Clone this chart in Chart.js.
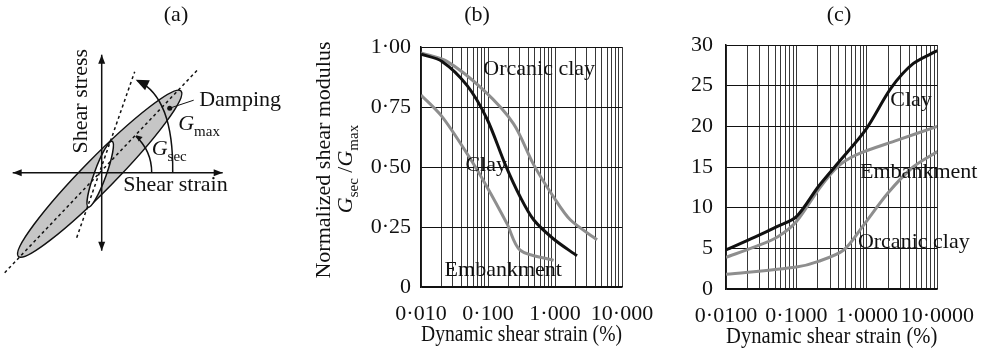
<!DOCTYPE html>
<html>
<head>
<meta charset="utf-8">
<script src="https://cdn.jsdelivr.net/npm/chart.js@4.4.1/dist/chart.umd.min.js"></script>
<style>
  html, body { margin: 0; padding: 0; background: #fff; }
  #wrap { position: relative; width: 988px; height: 356px; overflow: hidden; }
  canvas { position: absolute; top: 0; }
</style>
</head>
<body>
<div id="wrap">
  <canvas id="loop" width="290" height="356" style="left:0"></canvas>
  <canvas id="modulus" width="400" height="356" style="left:280px"></canvas>
  <canvas id="damping" width="328" height="356" style="left:660px"></canvas>
</div>
<script>
// ---- axes ----
const strainDecades = [0.01, 0.1, 1, 10];
const decadeSteps = [1, 2, 3, 4, 5, 6, 7, 8, 9];
const modulusStrainLabels = ['0·010', '0·100', '1·000', '10·000'];
const dampingStrainLabels = ['0·0100', '0·1000', '1·0000', '10·0000'];
const modulusTickLabels = ['0', '0·25', '0·50', '0·75', '1·00'];
const dampingTickLabels = ['0', '5', '10', '15', '20', '25', '30'];

// ---- (b) normalized shear modulus Gsec/Gmax vs strain (%) ----
const clayStrainB = [0.01, 0.0206, 0.0486, 0.0967, 0.181, 0.303, 0.48, 0.953, 2.13];
const clayModulus = [0.97, 0.94, 0.84, 0.70, 0.51, 0.375, 0.28, 0.20, 0.13];
const organicStrainB = [0.01, 0.0244, 0.086, 0.241, 0.48, 0.953, 1.69, 4.24];
const organicModulus = [0.975, 0.94, 0.82, 0.68, 0.51, 0.375, 0.28, 0.197];
const embankStrainB = [0.01, 0.0206, 0.0486, 0.0967, 0.192, 0.303, 0.953];
const embankModulus = [0.80, 0.71, 0.556, 0.417, 0.264, 0.153, 0.111];

// ---- (c) damping (%) vs strain (%) ----
const clayStrainC = [0.01, 0.0261, 0.0537, 0.1, 0.205, 0.381, 0.964, 2.2, 4.53, 10];
const clayDamping = [4.8, 6.4, 7.7, 8.9, 12.6, 15.4, 19.6, 24.7, 27.7, 29.3];
const embankStrainC = [0.01, 0.0261, 0.0537, 0.1, 0.205, 0.381, 0.706, 2.71, 10];
const embankDamping = [3.9, 5.2, 6.4, 8.3, 12.2, 15.0, 16.5, 18.3, 20.0];
const organicStrainC = [0.01, 0.1, 0.205, 0.469, 0.871, 1.99, 4.53, 10];
const organicDamping = [1.8, 2.7, 3.4, 4.8, 7.7, 11.8, 15.0, 16.9];

// ---- (a) hysteresis loop sketch (schematic units) ----
const strainAxisX = [-89, 121];
const stressAxisY = [-78, 118];
const secantLineX = [-97, 96];
const secantLineY = [-100, 103];
const tangentLineX = [-25, 33];
const tangentLineY = [-65, 101];

const SERIF = "'Liberation Serif', 'Times New Roman', serif";
const GREY = '#8e8e8e';
const INK = '#111';
Chart.defaults.font.family = SERIF;
Chart.defaults.font.size = 22;
Chart.defaults.color = INK;

const pts = (xs, ys) => xs.map((x, i) => ({x, y: ys[i]}));

const logGrid = scale => {
  const ticks = [];
  strainDecades.slice(0, -1).forEach(d => decadeSteps.forEach(s => ticks.push({value: +(d * s).toPrecision(6)})));
  ticks.push({value: strainDecades[strainDecades.length - 1]});
  scale.ticks = ticks;
};
const decadeLabel = labels => v => {
  const i = strainDecades.findIndex(d => Math.abs(v / d - 1) < 1e-6);
  return i < 0 ? '' : labels[i];
};

const curveLabels = {
  id: 'curveLabels',
  afterDatasetsDraw(chart, args, opts) {
    const {ctx, scales: {x, y}} = chart;
    ctx.save();
    ctx.font = '22px ' + SERIF;
    ctx.fillStyle = INK;
    ctx.textBaseline = 'middle';
    opts.items.forEach(l => {
      ctx.textAlign = l.align;
      ctx.fillText(l.text, x.getPixelForValue(l.at[0]), y.getPixelForValue(l.at[1]));
    });
    ctx.restore();
  }
};

const panelLetter = {
  id: 'panelLetter',
  afterDraw(chart, args, opts) {
    const ctx = chart.ctx;
    ctx.save();
    ctx.font = '22px ' + SERIF;
    ctx.fillStyle = INK;
    ctx.textAlign = 'center';
    ctx.textBaseline = 'middle';
    ctx.fillText(opts.text, opts.x, opts.y);
    ctx.restore();
  }
};

// text with italic G and subscripts, e.g. G_sec
function drawParts(ctx, parts, x, y, align) {
  const widths = parts.map(p => { ctx.font = p.font; return ctx.measureText(p.t).width; });
  const total = widths.reduce((a, b) => a + b, 0);
  let cx = align === 'center' ? x - total / 2 : x;
  ctx.textAlign = 'left';
  parts.forEach((p, i) => {
    ctx.font = p.font;
    ctx.fillText(p.t, cx, y + (p.dy || 0));
    cx += widths[i];
  });
}
const gSub = sub => [
  {t: 'G', font: 'italic 22px ' + SERIF},
  {t: sub, font: '15px ' + SERIF, dy: 8}
];

const modulusTitle = {
  id: 'modulusTitle',
  afterDraw(chart) {
    const ctx = chart.ctx;
    ctx.save();
    ctx.fillStyle = INK;
    ctx.textBaseline = 'middle';
    ctx.translate(44, 160);
    ctx.rotate(-Math.PI / 2);
    ctx.font = '22px ' + SERIF;
    ctx.textAlign = 'center';
    ctx.fillText('Normalized shear modulus', 0, 0);
    ctx.restore();
    ctx.save();
    ctx.fillStyle = INK;
    ctx.textBaseline = 'middle';
    ctx.translate(66, 169);
    ctx.rotate(-Math.PI / 2);
    drawParts(ctx, [...gSub('sec'), {t: ' /', font: '22px ' + SERIF}, ...gSub('max')], 0, 0, 'center');
    ctx.restore();
  }
};

const lineDefaults = {
  responsive: false,
  animation: false,
  events: [],
  elements: {point: {radius: 0}, line: {borderWidth: 3, tension: 0.3, fill: false}},
};

function strainAxis(labels, height, titlePad) {
  return {
    type: 'logarithmic', min: 0.01, max: 10,
    afterBuildTicks: logGrid,
    afterFit: s => { s.height = height; },
    ticks: {autoSkip: false, maxRotation: 0, padding: 14, callback: decadeLabel(labels)},
    grid: {color: '#383838', lineWidth: 1, drawTicks: false},
    border: {color: INK, width: 1.5},
    title: {display: true, text: 'Dynamic shear strain (%)', font: {size: 23}, padding: {top: 0, bottom: titlePad}}
  };
}

// ---- (b) ----
new Chart(document.getElementById('modulus'), {
  type: 'line',
  data: {
    datasets: [
      {label: 'Clay', data: pts(clayStrainB, clayModulus), borderColor: INK},
      {label: 'Orcanic clay', data: pts(organicStrainB, organicModulus), borderColor: GREY},
      {label: 'Embankment', data: pts(embankStrainB, embankModulus), borderColor: GREY}
    ]
  },
  options: {
    ...lineDefaults,
    layout: {padding: {left: 0, right: 58, top: 47, bottom: 0}},
    plugins: {
      legend: {display: false},
      tooltip: {enabled: false},
      panelLetter: {text: '(b)', x: 197, y: 15},
      curveLabels: {items: [
        {text: 'Orcanic clay', at: [0.085, 0.907], align: 'left'},
        {text: 'Clay', at: [0.094, 0.507], align: 'center'},
        {text: 'Embankment', at: [0.169, 0.072], align: 'center'}
      ]}
    },
    scales: {
      x: strainAxis(modulusStrainLabels, 69, 7),
      y: {
        min: 0, max: 1,
        afterFit: s => { s.width = 141; },
        ticks: {stepSize: 0.25, padding: 10, callback: (v, i) => modulusTickLabels[i]},
        grid: {color: INK, drawTicks: false},
        border: {color: INK, width: 1.5}
      }
    }
  },
  plugins: [curveLabels, panelLetter, modulusTitle]
});

// ---- (c) ----
new Chart(document.getElementById('damping'), {
  type: 'line',
  data: {
    datasets: [
      {label: 'Clay', data: pts(clayStrainC, clayDamping), borderColor: INK},
      {label: 'Embankment', data: pts(embankStrainC, embankDamping), borderColor: GREY},
      {label: 'Orcanic clay', data: pts(organicStrainC, organicDamping), borderColor: GREY}
    ]
  },
  options: {
    ...lineDefaults,
    layout: {padding: {left: 0, right: 39, top: 45, bottom: 0}},
    plugins: {
      legend: {display: false},
      tooltip: {enabled: false},
      panelLetter: {text: '(c)', x: 179, y: 15},
      curveLabels: {items: [
        {text: 'Clay', at: [2.15, 23.2], align: 'left'},
        {text: 'Embankment', at: [0.8, 14.4], align: 'left'},
        {text: 'Orcanic clay', at: [0.745, 5.8], align: 'left'}
      ]}
    },
    scales: {
      x: strainAxis(dampingStrainLabels, 67, 5),
      y: {
        min: 0, max: 30,
        afterFit: s => { s.width = 66; },
        ticks: {stepSize: 5, padding: 13, callback: (v, i) => dampingTickLabels[i]},
        grid: {color: INK, drawTicks: false},
        border: {color: INK, width: 1.5}
      }
    }
  },
  plugins: [curveLabels, panelLetter]
});

// ---- (a) ----
function arrowHead(ctx, tx, ty, ang, len, half) {
  ctx.beginPath();
  ctx.moveTo(tx, ty);
  ctx.lineTo(tx - len * Math.cos(ang) + half * Math.sin(ang), ty - len * Math.sin(ang) - half * Math.cos(ang));
  ctx.lineTo(tx - len * Math.cos(ang) - half * Math.sin(ang), ty - len * Math.sin(ang) + half * Math.cos(ang));
  ctx.closePath();
  ctx.fill();
}

const loopSketch = {
  id: 'loopSketch',
  beforeDatasetsDraw(chart) {
    const {ctx, scales: {x, y}} = chart;
    const ell = (c, r, deg, fill) => {
      ctx.save();
      ctx.beginPath();
      ctx.ellipse(x.getPixelForValue(c[0]), y.getPixelForValue(c[1]), r[0], r[1], -deg * Math.PI / 180, 0, 2 * Math.PI);
      ctx.fillStyle = fill;
      ctx.fill();
      ctx.lineWidth = 1.5;
      ctx.strokeStyle = INK;
      ctx.stroke();
      ctx.restore();
    };
    ell([-2, -1], [116, 16], 45.5, '#c6c6c6');
    ell([-1.5, -1.5], [35, 6], 70, '#ffffff');
  },
  afterDatasetsDraw(chart) {
    const {ctx, scales: {x, y}} = chart;
    const px = v => x.getPixelForValue(v), py = v => y.getPixelForValue(v);
    ctx.save();
    ctx.fillStyle = INK;
    ctx.strokeStyle = INK;
    // axis arrow heads
    arrowHead(ctx, px(strainAxisX[1]), py(0), 0, 9, 3.5);
    arrowHead(ctx, px(strainAxisX[0]), py(0), Math.PI, 9, 3.5);
    arrowHead(ctx, px(0), py(stressAxisY[1]), -Math.PI / 2, 9, 3.5);
    arrowHead(ctx, px(0), py(stressAxisY[0]), Math.PI / 2, 9, 3.5);
    // Gmax arc with arrow
    ctx.lineWidth = 1.5;
    ctx.beginPath();
    ctx.moveTo(px(71), py(0));
    ctx.quadraticCurveTo(px(72), py(75), px(36), py(92));
    ctx.stroke();
    arrowHead(ctx, px(34), py(93), Math.atan2(py(93) - py(75), px(34) - px(72)), 13, 5.5);
    // Gsec arc
    ctx.beginPath();
    ctx.arc(px(0), py(0), 50, 0, -47 * Math.PI / 180, true);
    ctx.stroke();
    arrowHead(ctx, px(34.5), py(37.5), Math.atan2(-0.68, -0.73), 6, 3);
    // damping dot and leader
    ctx.beginPath();
    ctx.arc(px(68), py(64.5), 2.5, 0, 2 * Math.PI);
    ctx.fill();
    ctx.lineWidth = 1;
    ctx.beginPath();
    ctx.moveTo(px(68), py(64.5));
    ctx.lineTo(px(92), py(72.5));
    ctx.stroke();
    // text
    ctx.textBaseline = 'middle';
    ctx.font = '22px ' + SERIF;
    ctx.textAlign = 'left';
    ctx.fillText('Shear strain', px(21.5), py(-12.5));
    ctx.fillText('Damping', px(97.5), py(72.5));
    drawParts(ctx, gSub('max'), px(76.5), py(48.5), 'left');
    drawParts(ctx, gSub('sec'), px(50), py(23.5), 'left');
    ctx.save();
    ctx.translate(px(-20), py(71.5));
    ctx.rotate(-Math.PI / 2);
    ctx.font = '22px ' + SERIF;
    ctx.textAlign = 'center';
    ctx.fillText('Shear stress', 0, 0);
    ctx.restore();
    ctx.restore();
  }
};

new Chart(document.getElementById('loop'), {
  type: 'scatter',
  data: {
    datasets: [
      {data: pts(strainAxisX, [0, 0]), borderColor: INK, borderWidth: 1.5},
      {data: pts([0, 0], stressAxisY), borderColor: INK, borderWidth: 1.5},
      {data: pts(secantLineX, secantLineY), borderColor: INK, borderWidth: 1.5, borderDash: [3, 3]},
      {data: pts(tangentLineX, tangentLineY), borderColor: INK, borderWidth: 1.5, borderDash: [3, 3]}
    ]
  },
  options: {
    responsive: false,
    animation: false,
    events: [],
    showLine: true,
    elements: {point: {radius: 0}},
    layout: {padding: 0},
    plugins: {
      legend: {display: false},
      tooltip: {enabled: false},
      panelLetter: {text: '(a)', x: 176, y: 15}
    },
    scales: {
      x: {type: 'linear', display: false, min: -101.7, max: 188.3},
      y: {type: 'linear', display: false, min: -183.3, max: 172.7}
    }
  },
  plugins: [loopSketch, panelLetter]
});
</script>
</body>
</html>
